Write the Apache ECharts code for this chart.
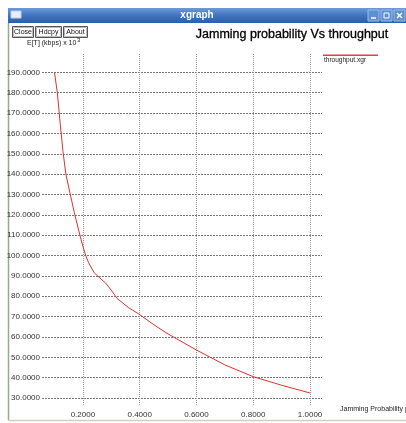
<!DOCTYPE html>
<html><head><meta charset="utf-8">
<script src="https://cdn.jsdelivr.net/npm/echarts@6/dist/echarts.min.js"></script>
<style>html,body{margin:0;padding:0;background:#fff}#c{width:406px;height:423px}</style>
</head><body><div id="c"></div>
<script>
const jamProb = [0.10, 0.11, 0.12, 0.13, 0.14, 0.155, 0.17, 0.185, 0.20, 0.21, 0.22, 0.24, 0.26, 0.28, 0.30, 0.32, 0.36, 0.40, 0.45, 0.50, 0.60, 0.70, 0.80, 0.90, 1.00];
const throughput = [190, 180, 165, 151, 140, 130.5, 121, 112.5, 104.5, 100, 96.5, 91.5, 89, 86.5, 83, 79, 74.5, 71, 66, 61.5, 53.6, 46.3, 40.5, 36.3, 32.5];
const xTicks = [0.2, 0.4, 0.6, 0.8, 1.0];
const yTicks = [30, 40, 50, 60, 70, 80, 90, 100, 110, 120, 130, 140, 150, 160, 170, 180, 190];
const seriesName = 'throughput.xgr';
const titleText = 'Jamming probability Vs throughput';
const windowTitle = 'xgraph';
const buttons = ['Close', 'Hdcpy', 'About'];
const xAxisName = 'Jamming Probability p';

const chart = echarts.init(document.getElementById('c'), null, {renderer: 'canvas'});
const data = jamProb.map((x, i) => [x, throughput[i]]);
const F = 'Liberation Sans, Arial, sans-serif';

const btnPos = [[12, 21], [35, 26], [63, 24]];
const graphics = [
  {type: 'rect', shape: {x: 8, y: 8, width: 398, height: 15},
   style: {fill: new echarts.graphic.LinearGradient(0, 0, 0, 1, [{offset: 0, color: '#6f9ad6'}, {offset: 0.5, color: '#3f74c2'}, {offset: 1, color: '#2c5faa'}])}},
  {type: 'rect', shape: {x: 11, y: 11, width: 10, height: 7}, style: {fill: '#e8eef8', stroke: '#bcd0ee', lineWidth: 1}},
  {type: 'text', style: {x: 197, y: 15.5, text: windowTitle, fill: '#ffffff', font: 'bold 10px ' + F, align: 'center', verticalAlign: 'middle'}},
  {type: 'rect', shape: {x: 368, y: 10, width: 11, height: 11}, style: {fill: '#5d8fd4', stroke: '#9dbce8', lineWidth: 1}},
  {type: 'rect', shape: {x: 381, y: 10, width: 11, height: 11}, style: {fill: '#5d8fd4', stroke: '#9dbce8', lineWidth: 1}},
  {type: 'rect', shape: {x: 394, y: 10, width: 11, height: 11}, style: {fill: '#5d8fd4', stroke: '#9dbce8', lineWidth: 1}},
  {type: 'line', shape: {x1: 371, y1: 18, x2: 376, y2: 18}, style: {stroke: '#fff', lineWidth: 1.5}},
  {type: 'rect', shape: {x: 384, y: 13, width: 5, height: 5}, style: {fill: 'none', stroke: '#fff', lineWidth: 1}},
  {type: 'line', shape: {x1: 397, y1: 13, x2: 402, y2: 18}, style: {stroke: '#fff', lineWidth: 1.5}},
  {type: 'line', shape: {x1: 402, y1: 13, x2: 397, y2: 18}, style: {stroke: '#fff', lineWidth: 1.5}},
  {type: 'line', shape: {x1: 8.5, y1: 23, x2: 8.5, y2: 420}, style: {stroke: '#9aa890', lineWidth: 1.5}},
  {type: 'line', shape: {x1: 8, y1: 420.5, x2: 406, y2: 420.5}, style: {stroke: '#c8d2c0', lineWidth: 1.5}},
  {type: 'text', style: {x: 292, y: 35, text: titleText, fill: '#000', font: '12.5px ' + F, align: 'center', verticalAlign: 'middle', stroke: '#000', lineWidth: 0.3}},
  {type: 'text', style: {x: 27, y: 43, text: 'E[T] (kbps) x 10', fill: '#222', font: '7px ' + F, align: 'left', verticalAlign: 'middle'}},
  {type: 'text', style: {x: 77, y: 40, text: '3', fill: '#222', font: '6px ' + F, align: 'left', verticalAlign: 'middle'}},
  {type: 'text', style: {x: 340, y: 409, text: xAxisName, fill: '#222', font: '7px ' + F, align: 'left', verticalAlign: 'middle'}},
  {type: 'rect', shape: {x: 323, y: 54.5, width: 55, height: 1.5}, style: {fill: '#f03a3a', stroke: null}, z: 10},
  {type: 'text', style: {x: 324, y: 60, text: seriesName, fill: '#222', font: '6.5px ' + F, align: 'left', verticalAlign: 'middle'}}
];
buttons.forEach((b, i) => {
  const [x, w] = btnPos[i];
  graphics.push({type: 'rect', shape: {x: x + 0.5, y: 26.5, width: w, height: 11}, style: {fill: '#fff', stroke: '#555', lineWidth: 1}});
  graphics.push({type: 'rect', shape: {x: x + 1.5, y: 27.5, width: w - 2, height: 9}, style: {fill: 'none', stroke: '#bbb', lineWidth: 1}});
  graphics.push({type: 'text', style: {x: x + 0.5 + w / 2, y: 32, text: b, fill: '#111', font: '7px ' + F, align: 'center', verticalAlign: 'middle'}});
});

chart.setOption({
  animation: false,
  backgroundColor: '#fff',
  grid: {left: 42, right: 84, top: 54, bottom: 18, containLabel: false},
  xAxis: {
    type: 'value', min: 0.056, max: 1.042,
    axisLine: {show: false},
    axisTick: {show: false, customValues: xTicks},
    axisLabel: {customValues: xTicks, formatter: v => v.toFixed(4), fontSize: 8, color: '#333', fontFamily: F, margin: 6},
    splitLine: {show: true, lineStyle: {color: '#999', type: [1, 1], width: 1}}
  },
  yAxis: {
    type: 'value', min: 26.6, max: 199,
    axisLine: {show: false},
    axisTick: {show: false, customValues: yTicks},
    axisLabel: {customValues: yTicks, formatter: v => v.toFixed(4), fontSize: 8, color: '#333', fontFamily: F, margin: 2},
    splitLine: {show: true, lineStyle: {color: '#777', type: [2, 1], width: 1}}
  },
  series: [{
    name: seriesName, type: 'line', data: data, showSymbol: false,
    lineStyle: {color: '#e03030', width: 1}, z: 5
  }],
  graphic: graphics
});
</script>
</body></html>
